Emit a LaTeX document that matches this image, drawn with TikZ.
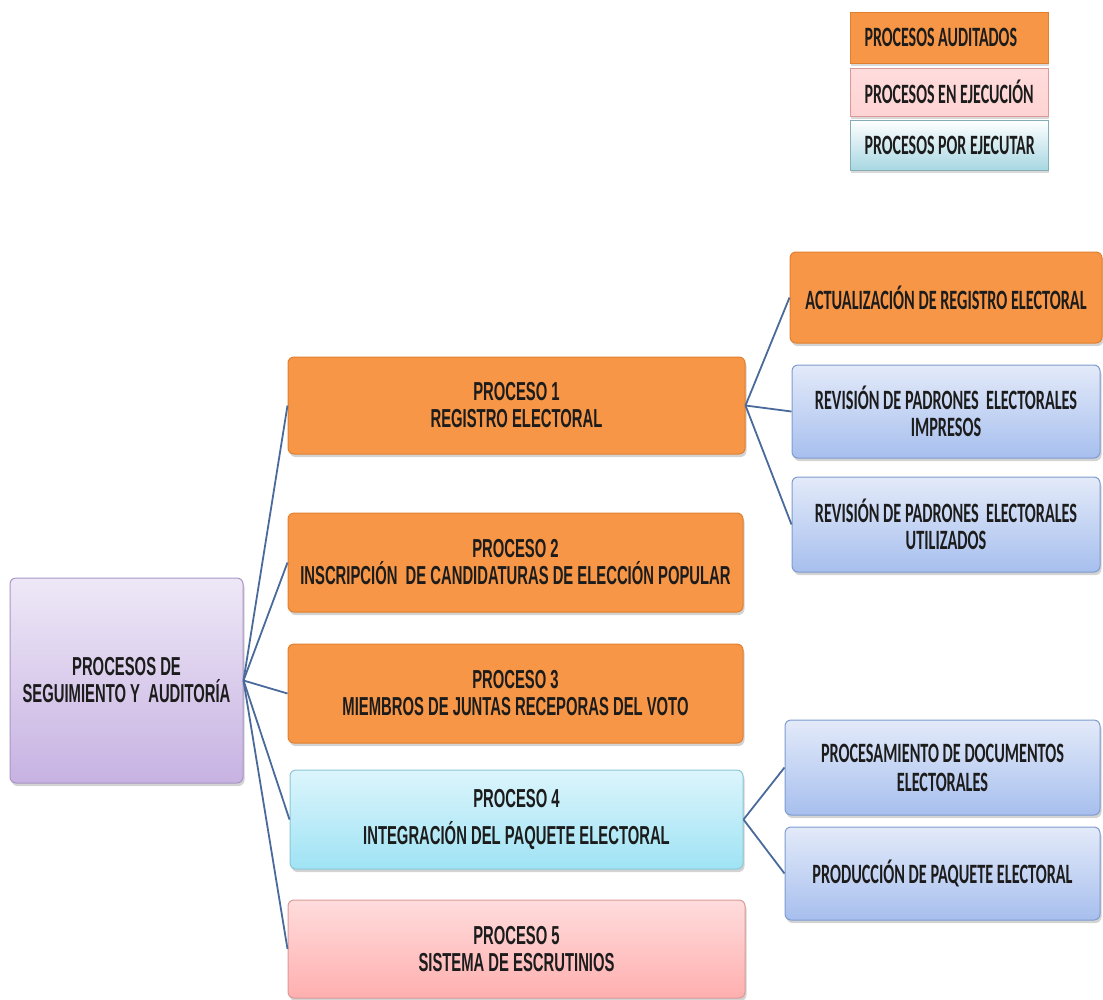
\documentclass[tikz,border=0pt]{standalone}
\usepackage{fontspec}
\newfontfamily\procfont{Liberation Sans}[FakeStretch=0.57]
\newfontfamily\subfont{Carlito}[FakeStretch=0.58]
\newfontfamily\legfont{Carlito}[FakeStretch=0.57]
\usetikzlibrary{shadows}
\definecolor{orfill}{HTML}{F79646}
\definecolor{ordraw}{HTML}{E0802F}
\definecolor{linkc}{HTML}{4A6A9B}
\definecolor{txt}{HTML}{1C1C1C}
\definecolor{rootA}{HTML}{EEE8F7}
\definecolor{rootB}{HTML}{C7B2E2}
\definecolor{rootD}{HTML}{A995C4}
\definecolor{cyA}{HTML}{DCF5FC}
\definecolor{cyB}{HTML}{9FE3F4}
\definecolor{cyD}{HTML}{8CC6D6}
\definecolor{pkA}{HTML}{FFDCDC}
\definecolor{pkB}{HTML}{FFAFAF}
\definecolor{pkD}{HTML}{D99A98}
\definecolor{blA}{HTML}{E3EAF9}
\definecolor{blB}{HTML}{A7BFEE}
\definecolor{blD}{HTML}{7E9BCF}
\definecolor{lgA}{HTML}{FFFFFF}
\definecolor{lgB}{HTML}{A8D7E2}
\begin{document}
\begin{tikzpicture}[x=1pt,y=-1pt,
  box/.style={rectangle, rounded corners=6pt, line width=1pt, inner sep=0pt, align=center, text=txt,
    drop shadow={shadow xshift=1.5pt, shadow yshift=-3pt, opacity=0.35}},
  pfont/.style={font=\procfont\bfseries\fontsize{26}{27}\selectfont},
  sfont/.style={font=\subfont\bfseries\fontsize{28}{27}\selectfont},
  lfont/.style={font=\legfont\bfseries\fontsize{28}{27}\selectfont},
  orbox/.style={box, fill=orfill, draw=ordraw},
  rootbox/.style={box, top color=rootA, bottom color=rootB, draw=rootD},
  cybox/.style={box, top color=cyA, bottom color=cyB, draw=cyD},
  pkbox/.style={box, top color=pkA, bottom color=pkB, draw=pkD},
  blbox/.style={box, top color=blA, bottom color=blB, draw=blD},
  legbox/.style={rectangle, inner sep=0pt, minimum width=198pt, line width=0.8pt,
    drop shadow={shadow xshift=1pt, shadow yshift=-3pt, opacity=0.3}},
  link/.style={draw=linkc, line width=1.8pt}
]
\useasboundingbox (0,0) rectangle (1103,999);

% legend
\node[legbox, fill=orfill, draw=ordraw, minimum height=51pt] (lg1) at (949,37.5) {};
\node[legbox, top color=pkA, bottom color=pkA!80!pkB, draw=pkD, minimum height=48pt] (lg2) at (949,92) {};
\node[legbox, top color=lgA, bottom color=lgB, draw=lgB!80!black, minimum height=50pt] (lg3) at (949,145) {};
\node[lfont, text=txt, anchor=west] (lt1) at (861,37.5) {PROCESOS AUDITADOS};
\node[lfont, text=txt, anchor=west] (lt2) at (861,92) {PROCESOS EN EJECUCIÓN};
\node[lfont, text=txt, anchor=west] (lt3) at (861,145) {PROCESOS POR EJECUTAR};

% root
\node[rootbox, pfont, minimum width=233pt, minimum height=205pt] (root) at (126.5,680.5)
  {PROCESOS DE\\SEGUIMIENTO Y\ \ AUDITORÍA};

% processes
\node[orbox, pfont, minimum width=457pt, minimum height=97pt] (p1) at (516.5,405.5)
  {PROCESO 1\\REGISTRO ELECTORAL};
\node[orbox, pfont, minimum width=455pt, minimum height=99pt] (p2) at (515.5,562.5)
  {PROCESO 2\\INSCRIPCIÓN\ \ DE CANDIDATURAS DE ELECCIÓN POPULAR};
\node[orbox, pfont, minimum width=455pt, minimum height=99pt] (p3) at (515.5,693.5)
  {PROCESO 3\\MIEMBROS DE JUNTAS RECEPORAS DEL VOTO};
\node[cybox, pfont, minimum width=453pt, minimum height=99pt] (p4) at (516.5,819.5)
  {PROCESO 4\\[10pt]INTEGRACIÓN DEL PAQUETE ELECTORAL};
\node[pkbox, pfont, minimum width=457pt, minimum height=98pt] (p5) at (516.5,949)
  {PROCESO 5\\SISTEMA DE ESCRUTINIOS};

% sub-processes
\node[orbox, sfont, minimum width=312pt, minimum height=91pt] (a1) at (946,297.5)
  {ACTUALIZACIÓN DE REGISTRO ELECTORAL};
\node[blbox, sfont, minimum width=308pt, minimum height=93pt] (a2) at (946,411.5)
  {REVISIÓN DE PADRONES\ \ ELECTORALES\\IMPRESOS};
\node[blbox, sfont, minimum width=308pt, minimum height=95pt] (a3) at (946,524.5)
  {REVISIÓN DE PADRONES\ \ ELECTORALES\\UTILIZADOS};
\node[blbox, sfont, minimum width=315pt, minimum height=95pt] (b1) at (942.5,767.5)
  {PROCESAMIENTO DE DOCUMENTOS\\[2pt]ELECTORALES};
\node[blbox, sfont, minimum width=315pt, minimum height=93pt] (b2) at (942.5,873.5)
  {PRODUCCIÓN DE PAQUETE ELECTORAL};

% connectors
\foreach \t in {p1,p2,p3,p4,p5} \draw[link] (root.east) -- (\t.west);
\foreach \t in {a1,a2,a3} \draw[link] (p1.east) -- (\t.west);
\foreach \t in {b1,b2} \draw[link] (p4.east) -- (\t.west);
\end{tikzpicture}
\end{document}
